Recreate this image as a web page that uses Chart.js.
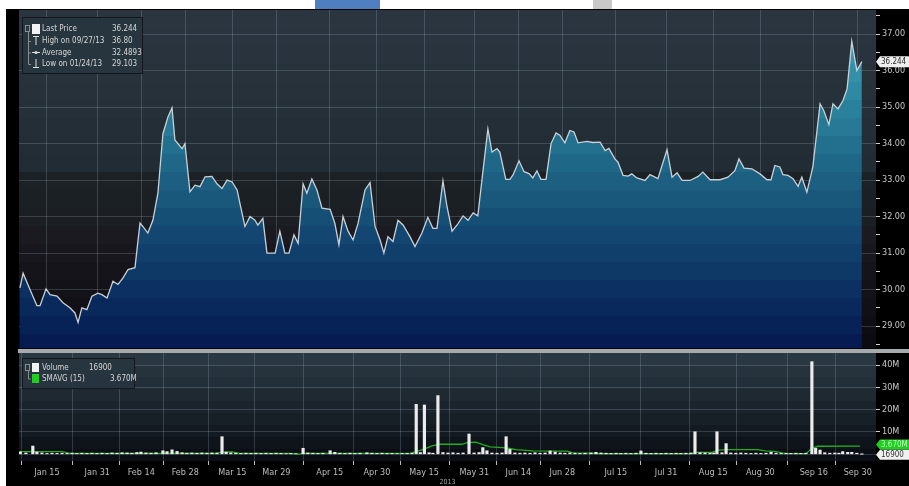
<!DOCTYPE html>
<html><head><meta charset="utf-8">
<script src="https://cdn.jsdelivr.net/npm/chart.js@4.4.0/dist/chart.umd.min.js"></script>
<style>
html,body{margin:0;padding:0;background:#fff;width:909px;height:486px;overflow:hidden;}
#frame{position:absolute;left:6px;top:9px;right:0;bottom:0;background:#000;}
#c1{position:absolute;left:0;top:0;}
#c2{position:absolute;left:0;top:353px;}
#sep{position:absolute;left:18px;top:349px;width:891px;height:4px;background:#a7abae;}
.tab{position:absolute;top:0;height:9px;}
</style></head><body>
<div id="frame"></div>
<div class="tab" style="left:315px;width:65px;background:#4f7fc0"></div>
<div class="tab" style="left:593px;width:19px;background:#c8c8c8"></div>
<canvas id="c1" width="909" height="349"></canvas>
<div id="sep"></div>
<canvas id="c2" width="909" height="133"></canvas>
<script>
// ---------- DATA (day of year 2013) ----------
const priceDays = [6.4, 7.4, 9.6, 11.8, 12.8, 14.7, 16.0, 18.2, 20.1, 22.3,
 23.9, 24.9, 26.1, 27.7, 29.3, 31.2, 32.5, 34.1, 36.0, 37.6,
 39.2, 40.8, 43.0, 44.6, 45.5, 47.1, 48.7, 50.3, 51.9, 53.5,
 54.8, 55.7, 58.0, 58.9, 60.5, 62.1, 63.7, 65.3, 67.5, 69.1,
 70.7, 72.3, 73.9, 75.5, 76.4, 78.0, 79.6, 81.2, 82.1, 83.7,
 85.0, 87.6, 89.1, 90.7, 92.0, 93.6, 94.9, 96.5, 97.7, 99.3,
 100.9, 102.5, 105.1, 106.6, 107.9, 109.2, 110.8, 112.4, 114.0, 116.2,
 117.8, 119.4, 121.0, 122.2, 123.5, 125.1, 126.7, 128.3, 130.5, 132.1,
 134.3, 136.2, 137.8, 139.1, 141.0, 142.3, 143.9, 145.5, 147.4, 149.0,
 150.6, 152.1, 153.4, 155.3, 156.6, 158.2, 159.1, 161.0, 162.3, 163.3,
 165.2, 166.8, 168.4, 169.6, 170.9, 172.2, 173.8, 175.4, 177.0, 178.2,
 179.8, 181.4, 182.7, 184.0, 186.8, 188.7, 191.0, 192.6, 193.8, 195.7,
 196.7, 198.3, 199.9, 201.1, 202.7, 205.3, 206.9, 209.4, 212.3, 213.9,
 215.5, 217.1, 219.6, 222.2, 223.7, 226.0, 229.2, 231.7, 233.9, 235.2,
 236.8, 239.3, 241.9, 244.1, 245.4, 246.6, 248.2, 249.2, 250.8, 252.4,
 254.0, 255.2, 255.9, 256.8, 258.7, 261.0, 262.2, 263.8, 265.1, 266.7,
 268.3, 269.6, 271.1, 272.7, 274.3];
const priceValues = [30.05, 30.45, 30.0, 29.56, 29.56, 30.02, 29.86, 29.82, 29.64, 29.5,
 29.36, 29.10, 29.5, 29.45, 29.82, 29.9, 29.86, 29.77, 30.23, 30.14,
 30.32, 30.55, 30.6, 31.82, 31.73, 31.55, 31.9, 32.64, 34.27, 34.73,
 34.98, 34.1, 33.86, 34.0, 32.68, 32.86, 32.82, 33.09, 33.1, 32.9,
 32.77, 33.0, 32.95, 32.73, 32.36, 31.73, 32.0, 31.9, 31.77, 31.95,
 31.0, 31.0, 31.6, 31.0, 31.0, 31.5, 31.27, 32.9, 32.64, 33.03,
 32.73, 32.23, 32.2, 31.82, 31.23, 32.0, 31.6, 31.36, 31.82, 32.73,
 32.93, 31.73, 31.36, 31.0, 31.45, 31.32, 31.9, 31.77, 31.45, 31.18,
 31.55, 31.98, 31.68, 31.68, 32.98, 32.27, 31.6, 31.77, 32.02, 31.9,
 32.1, 32.02, 33.0, 34.4, 33.77, 33.86, 33.77, 33.02, 33.02, 33.14,
 33.53, 33.23, 33.18, 33.06, 33.25, 33.02, 33.02, 34.0, 34.29, 34.23,
 34.02, 34.36, 34.32, 34.02, 34.06, 34.03, 34.04, 33.81, 33.87, 33.58,
 33.49, 33.13, 33.11, 33.17, 33.06, 32.99, 33.15, 33.04, 33.83, 33.08,
 33.2, 32.99, 32.99, 33.1, 33.22, 33.01, 33.01, 33.08, 33.26, 33.58,
 33.33, 33.31, 33.17, 33.01, 33.01, 33.4, 33.36, 33.15, 33.13, 33.04,
 32.83, 33.08, 32.9, 32.67, 33.36, 35.09, 34.9, 34.52, 35.09, 34.95,
 35.18, 35.5, 36.8, 36.0, 36.244];

const volumeDays = [6.5, 8.3, 10.5, 11.8, 13.4, 15, 16.6, 18.2, 19.8, 21.4,
 23, 24.5, 26.1, 27.7, 29.3, 30.9, 32.5, 34.1, 35.7, 37.3,
 38.9, 40.5, 42, 43.6, 44.9, 46.5, 48.1, 49.7, 51.9, 53.2,
 54.8, 56.4, 58, 59.5, 61.1, 62.7, 64.3, 65.9, 67.5, 69.1,
 70.7, 72, 73.5, 75.1, 76.7, 78.3, 79.9, 81.5, 83.1, 84.7,
 86.3, 87.9, 89.5, 91.1, 92.6, 94.2, 96.5, 98, 99.6, 101.2,
 102.8, 105.1, 106.6, 108.2, 109.8, 111.4, 113, 114.6, 116.8, 118.4,
 120, 121.6, 123.2, 124.8, 126.4, 128, 129.6, 131.2, 132.5, 133.8,
 135.1, 136.6, 137.8, 139.4, 141, 142.6, 144.2, 145.8, 147.4, 149.3,
 150.9, 152.5, 153.7, 155, 156.6, 158.2, 159.8, 161.1, 162.3, 163.9,
 165.5, 167.1, 168.7, 170.3, 171.9, 173.5, 175.1, 176.7, 178.3, 179.8,
 181.4, 183, 184.6, 186.2, 188.1, 189.7, 191.3, 192.9, 194.5, 196.1,
 197.6, 199.2, 200.8, 202.4, 204, 205.6, 207.2, 208.8, 210.4, 212,
 213.6, 215.2, 216.7, 218.3, 219.9, 221.2, 222.8, 224.4, 226, 227.2,
 228.2, 229.8, 231.1, 232.6, 234.2, 235.8, 237.4, 239, 240.6, 242.2,
 243.8, 245.4, 247, 248.6, 250.2, 251.7, 253.3, 254.9, 256.5, 258.4,
 259.6, 261, 262.5, 264.1, 265.7, 267, 268.2, 269.8, 271.1, 272.7,
 274.3];
const volumeValues = [1.1, 0.6, 3.7, 1.0, 0.6, 0.4, 0.5, 0.4, 0.5, 0.4,
 0.5, 0.4, 0.5, 0.4, 0.5, 0.4, 0.5, 0.4, 0.6, 0.5,
 0.7, 0.6, 0.5, 0.8, 1.0, 0.6, 0.5, 0.7, 1.6, 1.2,
 2.0, 1.3, 0.7, 0.5, 0.6, 0.5, 0.6, 0.5, 0.6, 0.5,
 7.9, 1.0, 0.6, 0.5, 0.4, 0.5, 0.4, 0.5, 0.4, 0.5,
 0.4, 0.5, 0.4, 0.3, 0.4, 0.3, 2.7, 0.6, 0.5, 0.4,
 0.5, 1.6, 0.9, 0.5, 0.4, 0.5, 0.4, 0.5, 0.7, 0.5,
 0.4, 0.5, 0.4, 0.4, 0.3, 0.4, 0.4, 0.5, 22.4, 0.8,
 22.1, 0.7, 0.5, 26.3, 0.8, 0.6, 0.7, 0.5, 0.6, 9.1,
 0.6, 0.8, 3.0, 1.6, 0.6, 0.5, 0.6, 7.9, 2.2, 0.6,
 0.5, 0.6, 0.5, 0.7, 0.5, 0.6, 1.5, 1.0, 0.6, 0.5,
 0.6, 0.5, 0.4, 0.5, 0.6, 0.9, 0.6, 0.5, 0.4, 0.5,
 0.4, 0.5, 0.4, 0.5, 1.5, 0.5, 0.4, 0.5, 0.4, 0.5,
 0.4, 0.5, 0.4, 0.5, 0.6, 10.1, 0.7, 0.6, 0.5, 0.6,
 10.1, 0.7, 4.8, 0.6, 0.5, 0.6, 0.5, 0.4, 0.5, 0.4,
 0.5, 0.9, 0.5, 0.4, 0.5, 0.4, 0.5, 0.4, 0.5, 41.5,
 2.7, 1.9, 0.7, 0.5, 0.6, 0.5, 1.2, 0.9, 0.9, 0.5,
 0.0169];

const smaDays = [6.4, 19.8, 22.3, 47.8, 68.5, 70.7, 73.9, 76.4, 92.3, 94.9,
 96.5, 108.2, 130.5, 132.4, 135.0, 137.5, 140.1, 147.1, 149.0, 151.5,
 153.7, 156.0, 160.1, 162.3, 164.2, 169.6, 180.5, 182.4, 187.8, 191.0,
 220.2, 221.8, 226.6, 228.5, 231.7, 241.2, 243.5, 246.6, 249.8, 256.5,
 258.4, 260.3, 273.7];
const smaValues = [1.2, 1.2, 0.4, 0.4, 0.4, 1.0, 1.1, 0.4, 0.4, 0.1,
 0.4, 0.4, 0.4, 1.2, 2.3, 3.8, 4.5, 4.5, 5.3, 5.4,
 4.3, 3.3, 3.0, 2.6, 2.1, 1.5, 1.4, 0.6, 0.5, 0.3,
 0.3, 0.9, 0.9, 1.9, 2.1, 2.1, 1.5, 1.3, 0.4, 0.3,
 2.7, 3.6, 3.67];

const tickDays = [15, 31, 45, 59, 74, 88, 105, 120, 135, 151, 165, 179, 196, 212, 227, 242, 259, 273];
const tickLabels = ['Jan 15','Jan 31','Feb 14','Feb 28','Mar 15','Mar 29','Apr 15','Apr 30','May 15','May 31','Jun 14','Jun 28','Jul 15','Jul 31','Aug 15','Aug 30','Sep 16','Sep 30'];
const yearLabel = '2013';

const priceLegendLabels = ['Last Price', 'High on 09/27/13', 'Average', 'Low on 01/24/13'];
const priceLegendValues = ['36.244', '36.80', '32.4893', '29.103'];
const volumeLegendLabels = ['Volume', 'SMAVG (15)'];
const volumeLegendValues = ['16900', '3.670M'];
const lastPriceTag = '36.244';
const lastVolumeTag = '16900';
const lastSmaTag = '3.670M';

// ---------- STYLE HELPERS ----------
const FONT = "'DejaVu Sans Condensed','DejaVu Sans',sans-serif";
Chart.defaults.font.family = FONT;
Chart.defaults.color = '#c4c4c4';

function hex(c){const n=parseInt(c.slice(1),16);return [(n>>16)&255,(n>>8)&255,n&255];}
function colorAt(stops,y){
  if(y<=stops[0][0])return stops[0][1];
  for(let i=1;i<stops.length;i++){
    if(y<=stops[i][0]){const [y0,c0]=stops[i-1],[y1,c1]=stops[i];const t=(y-y0)/(y1-y0);
      const a=hex(c0),b=hex(c1);return 'rgb('+a.map((v,k)=>Math.round(v+(b[k]-v)*t)).join(',')+')';}
  }
  return stops[stops.length-1][1];
}
function bandedGradient(ctx,top,bottom,stops,band){
  const g=ctx.createLinearGradient(0,top,0,bottom);const H=bottom-top;
  for(let y=top;y<bottom;y+=band){
    const y1=Math.min(y+band,bottom);const c=colorAt(stops,(y+y1)/2);
    g.addColorStop(Math.min(1,(y-top)/H),c);
    g.addColorStop(Math.min(1,Math.max((y1-top)/H-1e-4,(y-top)/H)),c);
  }
  return g;
}
const priceBgStops=[[10,'#2a3640'],[165,'#222c34'],[175,'#1c2226'],[215,'#1b1e22'],[250,'#19171e'],[290,'#131218'],[348,'#0b0a10']];
const priceFillStops=[[30,'#3ba2b8'],[110,'#2a819b'],[180,'#1c5f81'],[250,'#11406c'],[300,'#0a2c5e'],[348,'#041850']];
const volBgStops=[[0,'#2c3a45'],[40,'#1f2a33'],[75,'#141b23'],[108,'#0a0b12']];

const panelBg={id:'panelBg',beforeDraw(chart,args,o){
  const {ctx,chartArea:a}=chart;ctx.save();
  ctx.fillStyle=bandedGradient(ctx,a.top,a.bottom,o.stops,o.band);
  ctx.fillRect(a.left,a.top,a.right-a.left,a.bottom-a.top);ctx.restore();}};

function tag(c,x,y,w,h,fill,text,color){
  c.beginPath();c.moveTo(x,y);c.lineTo(x+4,y-h/2);c.lineTo(x+w,y-h/2);c.lineTo(x+w,y+h/2);c.lineTo(x+4,y+h/2);c.closePath();
  c.fillStyle=fill;c.fill();
  c.fillStyle=color;c.font="8px "+FONT;c.textBaseline='middle';c.textAlign='left';c.fillText(text,x+5,y+0.5);
}

const priceDecor={id:'priceDecor',afterDraw(chart){
  const c=chart.ctx;c.save();
  c.fillStyle='rgba(40,53,63,0.96)';c.fillRect(22,17,121,57);
  c.strokeStyle='rgba(12,16,20,0.8)';c.lineWidth=1;c.strokeRect(22.5,17.5,120,56);
  c.strokeStyle='#8c8c8c';c.beginPath();c.moveTo(28.5,32);c.lineTo(28.5,64.5);
  [41,52.5,64].forEach(y=>{c.moveTo(28.5,y+0.5);c.lineTo(31,y+0.5);});c.stroke();
  c.strokeRect(25.5,25.5,4,6);
  c.fillStyle='#f2f2f2';c.fillRect(32,24,8,10);
  c.strokeStyle='#dcdcdc';c.beginPath();
  c.moveTo(33,36.5);c.lineTo(39,36.5);c.moveTo(36,36.5);c.lineTo(36,45);
  c.moveTo(32,52.5);c.lineTo(40,52.5);
  c.moveTo(36,59);c.lineTo(36,67);c.moveTo(33,67.5);c.lineTo(39,67.5);c.stroke();
  c.beginPath();c.arc(36,52.5,1.6,0,Math.PI*2);c.fillStyle='#dcdcdc';c.fill();
  const rows=[29,41,52.5,64];
  c.font="8px "+FONT;c.fillStyle='#d6d6d6';c.textBaseline='middle';c.textAlign='left';
  priceLegendLabels.forEach((t,i)=>{c.fillText(t,42,rows[i]);c.fillText(priceLegendValues[i],112,rows[i]);});
  const y=chart.scales.y.getPixelForValue(priceValues[priceValues.length-1]);
  tag(c,876,y,33,11,'#eeeeee',lastPriceTag,'#2a2a2a');
  c.restore();}};

const volDecor={id:'volDecor',afterDraw(chart){
  const c=chart.ctx;c.save();
  c.fillStyle='rgba(40,53,63,0.96)';c.fillRect(22,5,113,31);
  c.strokeStyle='rgba(12,16,20,0.8)';c.lineWidth=1;c.strokeRect(22.5,5.5,112,30);
  c.strokeStyle='#8c8c8c';c.beginPath();c.moveTo(28.5,18);c.lineTo(28.5,26);c.lineTo(31,26);c.stroke();
  c.strokeRect(25.5,11.5,4,6);
  c.fillStyle='#f2f2f2';c.fillRect(32,10,7,9);
  c.fillStyle='#22cc22';c.fillRect(32,21,7,9);
  c.font="8px "+FONT;c.fillStyle='#d6d6d6';c.textBaseline='middle';c.textAlign='left';
  const rows=[14.5,25.5],vx=[89,110];
  volumeLegendLabels.forEach((t,i)=>{c.fillText(t,42,rows[i]);c.fillText(volumeLegendValues[i],vx[i],rows[i]);});
  const ys=chart.scales.y;
  tag(c,876,ys.getPixelForValue(smaValues[smaValues.length-1])-1.5,33,10,'#1fcf1f',lastSmaTag,'#b8ffb8');
  tag(c,876,ys.getPixelForValue(volumeValues[volumeValues.length-1])+0.5,33,10,'#f0f0f0',lastVolumeTag,'#333333');
  c.restore();}};

const X_MIN=6.1, X_MAX=278.8;
const gridCol='rgba(175,195,210,0.22)';
const isMult=(v,s)=>Math.abs(v/s-Math.round(v/s))<1e-6;

// ---------- PRICE CHART ----------
let fillCache=null;
new Chart(document.getElementById('c1'),{
  type:'line',
  data:{datasets:[{
    data:priceDays.map((d,i)=>({x:d,y:priceValues[i]})),
    borderColor:'#c9d0d6',borderWidth:1.3,pointRadius:0,tension:0,fill:'start',
    backgroundColor:(ctx)=>{const a=ctx.chart.chartArea;if(!a)return 'transparent';
      if(!fillCache)fillCache=bandedGradient(ctx.chart.ctx,a.top,a.bottom,priceFillStops,18);return fillCache;}
  }]},
  options:{
    responsive:false,animation:false,events:[],
    layout:{padding:{left:19,top:10,right:0,bottom:1}},
    plugins:{legend:{display:false},tooltip:{enabled:false},panelBg:{stops:priceBgStops,band:18}},
    scales:{
      x:{type:'linear',min:X_MIN,max:X_MAX,z:1,
        afterBuildTicks:s=>{s.ticks=tickDays.map(v=>({value:v}));},
        ticks:{display:false},grid:{color:gridCol,drawTicks:false},border:{display:false},
        afterFit:s=>{s.height=0;s.paddingLeft=0;s.paddingRight=0;}},
      y:{type:'linear',position:'right',min:28.40,max:37.66,z:1,
        afterBuildTicks:s=>{const t=[];for(let v=28.5;v<=37.5;v+=0.5)t.push({value:v});s.ticks=t;},
        ticks:{font:{size:9,family:FONT},color:'#c8c8c8',padding:2,
          callback:v=>isMult(v,1)?v.toFixed(2):''},
        grid:{color:c=>isMult(c.tick.value,1)?gridCol:'transparent',tickColor:'#d0d0d0',tickLength:4,tickWidth:1},
        border:{display:false},
        afterFit:s=>{s.width=33;s.paddingTop=0;s.paddingBottom=0;}}
    }
  },
  plugins:[panelBg,priceDecor]
});

// ---------- VOLUME CHART ----------
new Chart(document.getElementById('c2'),{
  type:'bar',
  data:{datasets:[
    {type:'bar',data:volumeDays.map((d,i)=>({x:d,y:volumeValues[i]})),backgroundColor:'#ececec',
      barThickness:2.5,order:0,grouped:false},
    {type:'line',data:smaDays.map((d,i)=>({x:d,y:smaValues[i]})),borderColor:'#1fae1f',borderWidth:1.3,
      pointRadius:0,tension:0,fill:false,order:1}
  ]},
  options:{
    responsive:false,animation:false,events:[],
    layout:{padding:{left:19,top:0,right:0,bottom:0}},
    plugins:{legend:{display:false},tooltip:{enabled:false},panelBg:{stops:volBgStops,band:12}},
    scales:{
      x:{type:'linear',min:X_MIN,max:X_MAX,offset:false,
        afterBuildTicks:s=>{s.ticks=tickDays.map(v=>({value:v}));},
        ticks:{autoSkip:false,maxRotation:0,font:{size:9,family:FONT},color:'#bdbdbd',padding:2,
          callback:v=>{const i=tickDays.indexOf(v);return i>=0?tickLabels[i]:'';}},
        grid:{color:gridCol,tickColor:'#bbbbbb',tickLength:4},border:{display:false},
        title:{display:true,text:yearLabel,font:{size:7,family:FONT},color:'#a0a0a0',padding:{top:0,bottom:0}},
        afterFit:s=>{s.height=25;s.paddingLeft=0;s.paddingRight=0;}},
      y:{type:'linear',position:'right',min:-3.0,max:45.4,
        afterBuildTicks:s=>{const t=[];for(let v=0;v<=45;v+=5)t.push({value:v});s.ticks=t;},
        ticks:{font:{size:9,family:FONT},color:'#c8c8c8',padding:2,
          callback:v=>(isMult(v,10)&&v>0)?v+'M':''},
        grid:{color:c=>isMult(c.tick.value,10)?gridCol:'transparent',
          tickColor:c=>c.tick.value>0?'#d0d0d0':'transparent',tickLength:4},
        border:{display:false},
        afterFit:s=>{s.width=33;s.paddingTop=0;s.paddingBottom=0;}}
    }
  },
  plugins:[panelBg,volDecor]
});
</script>
</body></html>
